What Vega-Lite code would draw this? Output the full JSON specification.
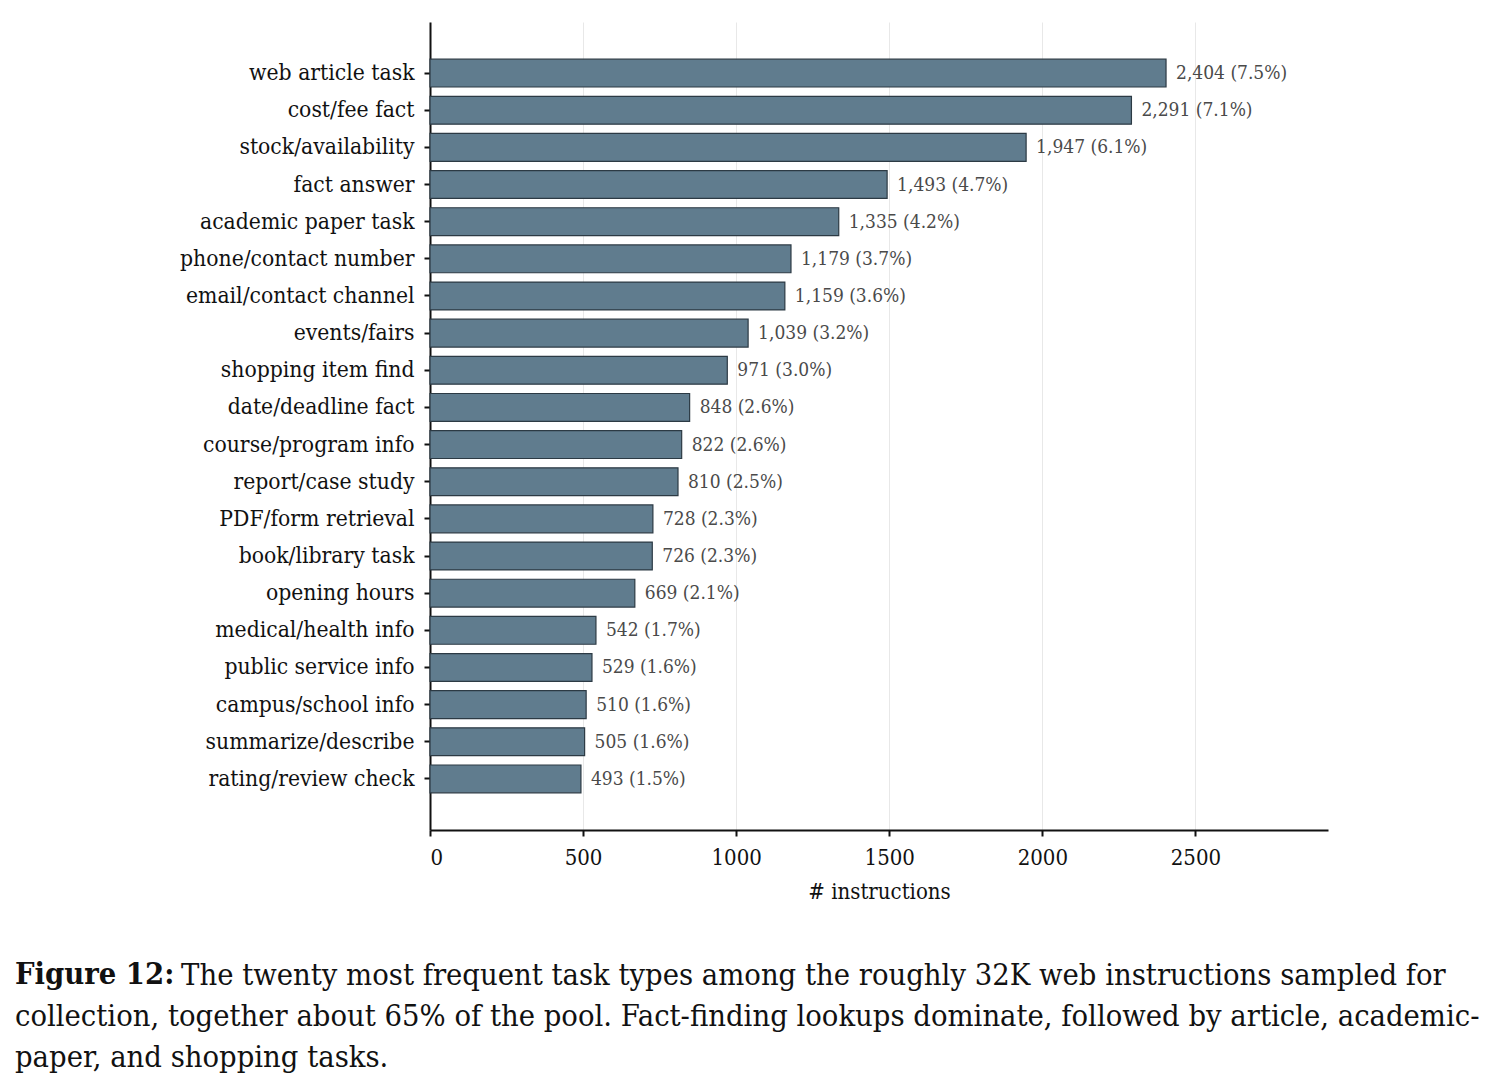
{
  "$schema": "https://vega.github.io/schema/vega-lite/v6.json",
  "width": 898,
  "height": 808,
  "autosize": "none",
  "padding": {"left": 430, "top": 22, "right": 170, "bottom": 249},
  "background": "white",
  "config": {
    "font": "DejaVu Serif Condensed",
    "view": {"stroke": null},
    "axis": {"labelFont": "DejaVu Serif Condensed", "titleFont": "DejaVu Serif Condensed"}
  },
  "title": {
    "text": "Figure 12:",
    "subtitle": [
      "\u200b\u00a0\u00a0\u00a0\u00a0\u00a0\u00a0\u00a0\u00a0\u00a0\u00a0\u00a0\u00a0\u00a0\u00a0\u00a0\u00a0\u00a0\u00a0\u00a0The twenty most frequent task types among the roughly 32K web instructions sampled for",
      "collection, together about 65% of the pool. Fact-finding lookups dominate, followed by article, academic-",
      "paper, and shopping tasks."
    ],
    "orient": "bottom",
    "anchor": "start",
    "frame": "group",
    "dx": -415,
    "offset": 58,
    "font": "DejaVu Serif Condensed",
    "fontSize": 30.6,
    "fontWeight": "bold",
    "color": "#111111",
    "subtitleFont": "DejaVu Serif Condensed",
    "subtitleFontSize": 30.6,
    "subtitleFontWeight": "normal",
    "subtitleColor": "#111111",
    "subtitleLineHeight": 41,
    "subtitlePadding": -30
  },
  "data": {
    "values": [
      {"task": "web article task", "count": 2404, "label": "2,404 (7.5%)"},
      {"task": "cost/fee fact", "count": 2291, "label": "2,291 (7.1%)"},
      {"task": "stock/availability", "count": 1947, "label": "1,947 (6.1%)"},
      {"task": "fact answer", "count": 1493, "label": "1,493 (4.7%)"},
      {"task": "academic paper task", "count": 1335, "label": "1,335 (4.2%)"},
      {"task": "phone/contact number", "count": 1179, "label": "1,179 (3.7%)"},
      {"task": "email/contact channel", "count": 1159, "label": "1,159 (3.6%)"},
      {"task": "events/fairs", "count": 1039, "label": "1,039 (3.2%)"},
      {"task": "shopping item find", "count": 971, "label": "971 (3.0%)"},
      {"task": "date/deadline fact", "count": 848, "label": "848 (2.6%)"},
      {"task": "course/program info", "count": 822, "label": "822 (2.6%)"},
      {"task": "report/case study", "count": 810, "label": "810 (2.5%)"},
      {"task": "PDF/form retrieval", "count": 728, "label": "728 (2.3%)"},
      {"task": "book/library task", "count": 726, "label": "726 (2.3%)"},
      {"task": "opening hours", "count": 669, "label": "669 (2.1%)"},
      {"task": "medical/health info", "count": 542, "label": "542 (1.7%)"},
      {"task": "public service info", "count": 529, "label": "529 (1.6%)"},
      {"task": "campus/school info", "count": 510, "label": "510 (1.6%)"},
      {"task": "summarize/describe", "count": 505, "label": "505 (1.6%)"},
      {"task": "rating/review check", "count": 493, "label": "493 (1.5%)"}
    ]
  },
  "encoding": {
    "y": {
      "field": "task",
      "type": "nominal",
      "sort": null,
      "title": null,
      "scale": {"paddingInner": 0.25, "paddingOuter": 1.0},
      "axis": {
        "labelFontSize": 22.7,
        "labelColor": "#111111",
        "labelPadding": 10,
        "tickSize": 6,
        "tickColor": "#111111",
        "tickWidth": 2,
        "domainColor": "#111111",
        "domainWidth": 2,
        "grid": false,
        "labelLimit": 400
      }
    },
    "x": {
      "field": "count",
      "type": "quantitative",
      "title": "# instructions",
      "scale": {"domain": [0, 2933], "nice": false, "zero": true},
      "axis": {
        "values": [0, 500, 1000, 1500, 2000, 2500],
        "format": "d",
        "labelFontSize": 22,
        "labelColor": "#111111",
        "labelPadding": 11,
        "tickSize": 6,
        "tickColor": "#111111",
        "tickWidth": 2,
        "domainColor": "#111111",
        "domainWidth": 2,
        "grid": true,
        "gridColor": "#e8e8e8",
        "gridWidth": 1,
        "titleFontSize": 22,
        "titleFontWeight": "normal",
        "titleColor": "#111111",
        "titlePadding": 13
      }
    }
  },
  "layer": [
    {
      "mark": {"type": "bar", "fill": "#607c8e", "stroke": "#2c3a44", "strokeWidth": 1.2}
    },
    {
      "mark": {"type": "text", "align": "left", "baseline": "middle", "dx": 10, "fontSize": 19, "color": "#4a4a4a"},
      "encoding": {"text": {"field": "label", "type": "nominal"}}
    }
  ]
}
